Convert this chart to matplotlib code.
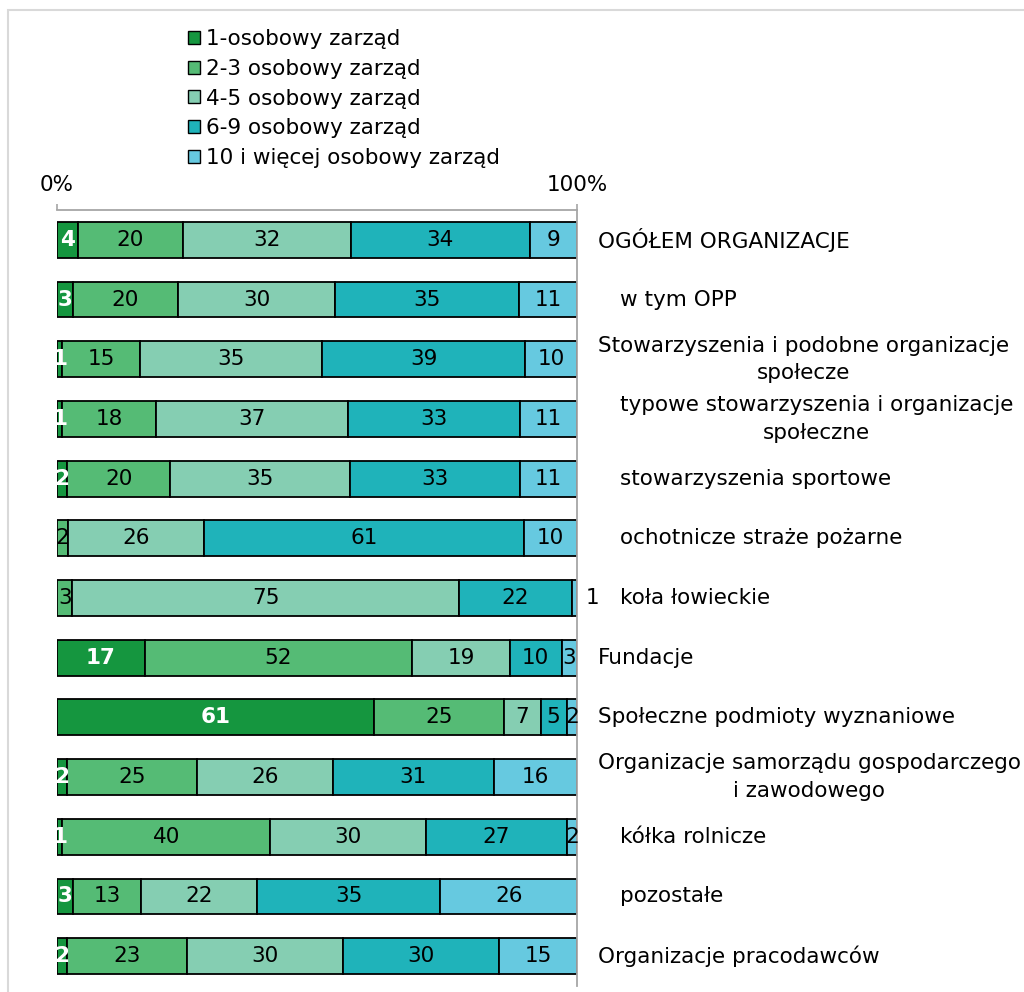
import matplotlib
matplotlib.use("Agg")
import matplotlib.pyplot as plt
from matplotlib.patches import Rectangle
import numpy as np

# data (percent of organisations)
categories = [
    "OGÓŁEM ORGANIZACJE",
    "w tym OPP",
    "Stowarzyszenia i podobne organizacje\nspołecze",
    "typowe stowarzyszenia i organizacje\nspołeczne",
    "stowarzyszenia sportowe",
    "ochotnicze straże pożarne",
    "koła łowieckie",
    "Fundacje",
    "Społeczne podmioty wyznaniowe",
    "Organizacje samorządu gospodarczego\ni zawodowego",
    "kółka rolnicze",
    "pozostałe",
    "Organizacje pracodawców",
]
indented = [False, True, False, True, True, True, True, False, False, False, True, True, False]

series_names = ["1-osobowy zarząd", "2-3 osobowy zarząd", "4-5 osobowy zarząd",
                "6-9 osobowy zarząd", "10 i więcej osobowy zarząd"]
one = [4, 3, 1, 1, 2, 0, 0, 17, 61, 2, 1, 3, 2]
two_three = [20, 20, 15, 18, 20, 2, 3, 52, 25, 25, 40, 13, 23]
four_five = [32, 30, 35, 37, 35, 26, 75, 19, 7, 26, 30, 22, 30]
six_nine = [34, 35, 39, 33, 33, 61, 22, 10, 5, 31, 27, 35, 30]
ten_plus = [9, 11, 10, 11, 11, 10, 1, 3, 2, 16, 2, 26, 15]
colors = ["#15963F", "#55BB75", "#85CEB2", "#1FB3BA", "#66C9E0"]

FS = 15.5
plt.rcParams['font.family'] = ['DejaVu Sans']

fig = plt.figure(figsize=(10.24, 9.92), dpi=100)
ax = fig.add_axes([57 / 1024, 6 / 992, 520 / 1024, 776 / 992])

data = np.array([one, two_three, four_five, six_nine, ten_plus], dtype=float)
totals = data.sum(axis=0)
shares = data / totals * 100
y = np.arange(len(categories))

left = np.zeros(len(categories))
for i in range(len(series_names)):
    ax.barh(y, shares[i], left=left, height=0.6, color=colors[i],
            edgecolor="black", linewidth=1.3, label=series_names[i], zorder=2)
    for j in range(len(categories)):
        v = data[i, j]
        if v <= 0:
            continue
        cx = left[j] + shares[i, j] / 2
        if i == 0:
            ax.text(cx, y[j], f"{v:.0f}", ha="center", va="center", color="white",
                    fontsize=FS, fontweight="bold", zorder=3)
        elif i == len(series_names) - 1 and v <= 1:
            ax.text(103, y[j], f"{v:.0f}", ha="center", va="center", color="black",
                    fontsize=FS, zorder=3, clip_on=False)
        else:
            ax.text(cx, y[j], f"{v:.0f}", ha="center", va="center", color="black",
                    fontsize=FS, zorder=3)
    left += shares[i]

# category names on the right
for j, name in enumerate(categories):
    xpos = 108.3 if indented[j] else 104
    ax.text(xpos, y[j], name, ha="left", va="center", multialignment="center",
            fontsize=FS, color="black", clip_on=False, linespacing=1.45)

ax.set_xlim(0, 100)
ax.set_ylim(len(categories) - 0.5, -0.5)
ax.set_yticks([])
ax.xaxis.tick_top()
ax.set_xticks([0, 100])
ax.set_xticklabels(["0%", "100%"], fontsize=FS)
ax.tick_params(axis="x", direction="out", length=4, width=1.2, color="#A6A6A6", pad=7)
for s in ["left", "bottom"]:
    ax.spines[s].set_visible(False)
for s in ["top", "right"]:
    ax.spines[s].set_color("#A6A6A6")
    ax.spines[s].set_linewidth(1.3)

leg = ax.legend(loc="upper left", bbox_to_anchor=(177 / 1024, 1 - 18 / 992),
                bbox_transform=fig.transFigure, frameon=False, fontsize=FS,
                handlelength=0.55, handleheight=0.55, handletextpad=0.3,
                labelspacing=0.46, borderpad=0)
for h in leg.legend_handles:
    h.set_linewidth(1.0)

# light outer frame of the chart area
fig.patches.append(Rectangle((8 / 1024, -0.1), 1.2, 1 - 10 / 992 + 0.1, transform=fig.transFigure,
                             fill=False, edgecolor="#D9D9D9", linewidth=1.5))

fig.savefig("out.png", dpi=100)
